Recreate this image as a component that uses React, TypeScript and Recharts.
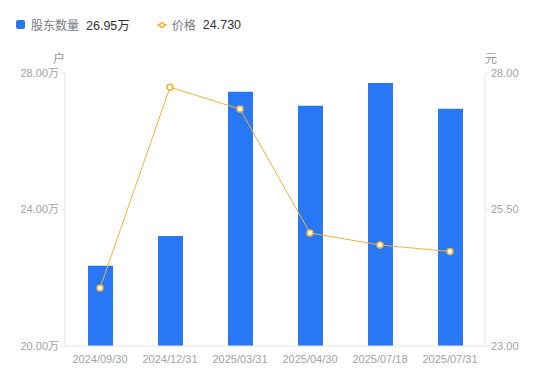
import { ComposedChart, Bar, Line, XAxis, YAxis } from 'recharts';

const dates = ['2024/09/30', '2024/12/31', '2025/03/31', '2025/04/30', '2025/07/18', '2025/07/31'];
const holders = [22.35, 23.22, 27.45, 27.04, 27.71, 26.95];
const prices = [24.06, 27.74, 27.34, 25.07, 24.85, 24.73];
const holderTicks = [20, 24, 28];
const priceTicks = [23, 25.5, 28];

const BLUE = '#2878f5';
const ORANGE = '#f7b036';
const FONT = '"Liberation Sans", "Noto Sans CJK SC", sans-serif';

const data = dates.map((d, i) => ({ date: d, holders: holders[i], price: prices[i] }));

export default function App() {
  return (
    <div style={{ position: 'absolute', left: 0, top: 0, width: 550, height: 381, background: '#fff', fontFamily: FONT }}>
      {/* Legend */}
      <div style={{ position: 'absolute', left: 16, top: 15, display: 'flex', alignItems: 'center', fontSize: 12, whiteSpace: 'nowrap' }}>
        <span style={{ display: 'inline-block', width: 9, height: 9, background: BLUE, borderRadius: 2, marginRight: 6 }} />
        <span style={{ color: '#757a85' }}>股东数量</span>
        <span style={{ color: '#333', marginLeft: 7, fontSize: 12.5 }}>26.95万</span>
        <svg width={10} height={10} style={{ marginLeft: 27, marginRight: 5 }}>
          <line x1={0} y1={5} x2={10} y2={5} stroke={ORANGE} strokeWidth={1.5} />
          <circle cx={5} cy={5} r={2.2} fill="#fff" stroke={ORANGE} strokeWidth={1.5} />
        </svg>
        <span style={{ color: '#757a85' }}>价格</span>
        <span style={{ color: '#333', marginLeft: 7, fontSize: 12.5 }}>24.730</span>
      </div>
      <div style={{ position: 'absolute', left: 53, top: 49, fontSize: 12, color: '#999' }}>户</div>
      <div style={{ position: 'absolute', left: 485, top: 49, fontSize: 12, color: '#999' }}>元</div>

      <div style={{ position: 'absolute', left: 0, top: 0 }}>
        <ComposedChart width={550} height={381} data={data} margin={{ top: 73, right: 0, bottom: 0, left: 0 }}>
          <XAxis
            dataKey="date"
            height={35}
            tickLine={false}
            axisLine={{ stroke: '#e6e6e6' }}
            tick={{ fill: '#a0a3ab', fontSize: 11, fontFamily: FONT, dy: 1 }}
            interval={0}
          />
          <YAxis
            yAxisId="left"
            orientation="left"
            width={65}
            domain={[20, 28]}
            ticks={holderTicks}
            tickFormatter={(v: number) => `${v.toFixed(2)}万`}
            axisLine={{ stroke: '#e6e6e6' }}
            tickLine={{ stroke: '#e6e6e6' }}
            tickSize={4}
            tick={{ fill: '#a0a3ab', fontSize: 11, fontFamily: FONT }}
          />
          <YAxis
            yAxisId="right"
            orientation="right"
            width={65}
            domain={[23, 28]}
            ticks={priceTicks}
            tickFormatter={(v: number) => v.toFixed(2)}
            axisLine={{ stroke: '#e6e6e6' }}
            tickLine={{ stroke: '#e6e6e6' }}
            tickSize={4}
            tick={{ fill: '#a0a3ab', fontSize: 11, fontFamily: FONT }}
          />
          <Bar yAxisId="left" dataKey="holders" fill={BLUE} barSize={25} isAnimationActive={false} />
          <Line
            yAxisId="right"
            dataKey="price"
            type="linear"
            stroke={ORANGE}
            strokeWidth={1}
            dot={{ r: 3, fill: '#fff', stroke: ORANGE, strokeWidth: 1.5 }}
            isAnimationActive={false}
          />
        </ComposedChart>
      </div>
    </div>
  );
}
